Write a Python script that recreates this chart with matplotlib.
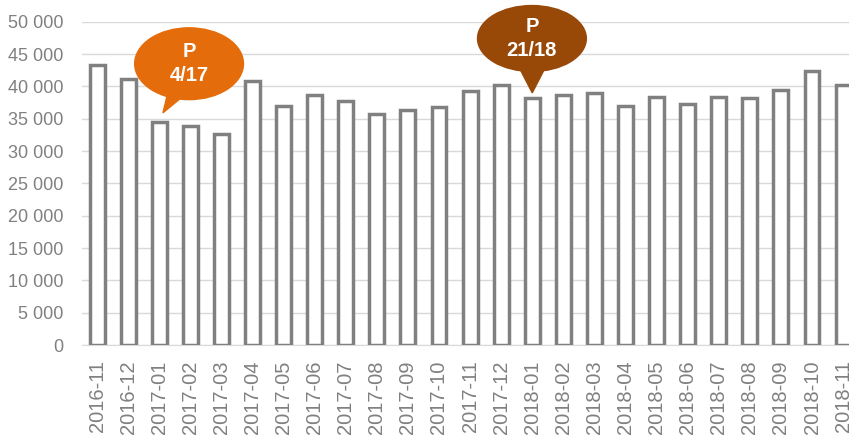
import matplotlib.pyplot as plt
from matplotlib.patches import Ellipse, Polygon
from matplotlib.ticker import FuncFormatter

mois = ["2016-11", "2016-12", "2017-01", "2017-02", "2017-03", "2017-04",
        "2017-05", "2017-06", "2017-07", "2017-08", "2017-09", "2017-10",
        "2017-11", "2017-12", "2018-01", "2018-02", "2018-03", "2018-04",
        "2018-05", "2018-06", "2018-07", "2018-08", "2018-09", "2018-10",
        "2018-11"]
valeurs = [43300, 41200, 34500, 33800, 32600, 40900,
           37000, 38700, 37800, 35800, 36300, 36800,
           39300, 40200, 38200, 38700, 39000, 36900,
           38300, 37200, 38300, 38200, 39400, 42400,
           40200]

# bulles : (mois visé, texte, couleur)
bulles = [("2017-01", "P\n4/17", "#E46C0A"),
          ("2018-01", "P\n21/18", "#984807")]

plt.rcParams['font.family'] = ['Liberation Sans', 'DejaVu Sans']

fig = plt.figure(figsize=(8.49, 4.38), dpi=100)
ax = fig.add_axes([81.5 / 849, 93 / 438, (849 - 81.5) / 849, (345 - 21.7) / 438])

x = list(range(len(mois)))
ax.bar(x, valeurs, width=0.48, color="white", edgecolor="#808080", linewidth=2.5, zorder=3)

ax.set_ylim(0, 50000)
ax.set_xlim(-0.5, 24.19)
ax.set_yticks(range(0, 50001, 5000))
ax.yaxis.set_major_formatter(FuncFormatter(lambda v, p: f"{int(v):,}".replace(",", " ")))
ax.set_xticks(x)
ax.set_xticklabels(mois, rotation=90)
ax.tick_params(axis="both", length=0, labelcolor="#808080")
ax.tick_params(axis="y", pad=13, labelsize=13)
ax.tick_params(axis="x", pad=11, labelsize=14.5)
ax.grid(axis="y", color="#d9d9d9", linewidth=1, zorder=0)
for s in ["top", "right", "left"]:
    ax.spines[s].set_visible(False)
ax.spines["bottom"].set_color("#d9d9d9")

# bulle orange (2017-01) et bulle marron (2018-01)
i0 = mois.index(bulles[0][0])
ax.add_patch(Ellipse((i0 + 0.96, 43500), 3.5, 11100, color=bulles[0][2], zorder=5, clip_on=False))
ax.add_patch(Polygon([(i0 + 0.12, 35900), (i0 + 0.3, 39500), (i0 + 0.9, 39000)],
                     color=bulles[0][2], zorder=5, clip_on=False))
ax.text(i0 + 0.96, 43500, bulles[0][1], ha="center", va="center", color="white",
        fontsize=14.5, fontweight="bold", linespacing=1.3, zorder=6)

i1 = mois.index(bulles[1][0])
ax.add_patch(Ellipse((i1 - 0.01, 47400), 3.5, 10200, color=bulles[1][2], zorder=5, clip_on=False))
ax.add_patch(Polygon([(i1, 39000), (i1 - 0.45, 43200), (i1 + 0.45, 43200)],
                     color=bulles[1][2], zorder=5, clip_on=False))
ax.text(i1 - 0.01, 47400, bulles[1][1], ha="center", va="center", color="white",
        fontsize=14.5, fontweight="bold", linespacing=1.3, zorder=6, clip_on=False)

fig.savefig("out.png", dpi=100)
